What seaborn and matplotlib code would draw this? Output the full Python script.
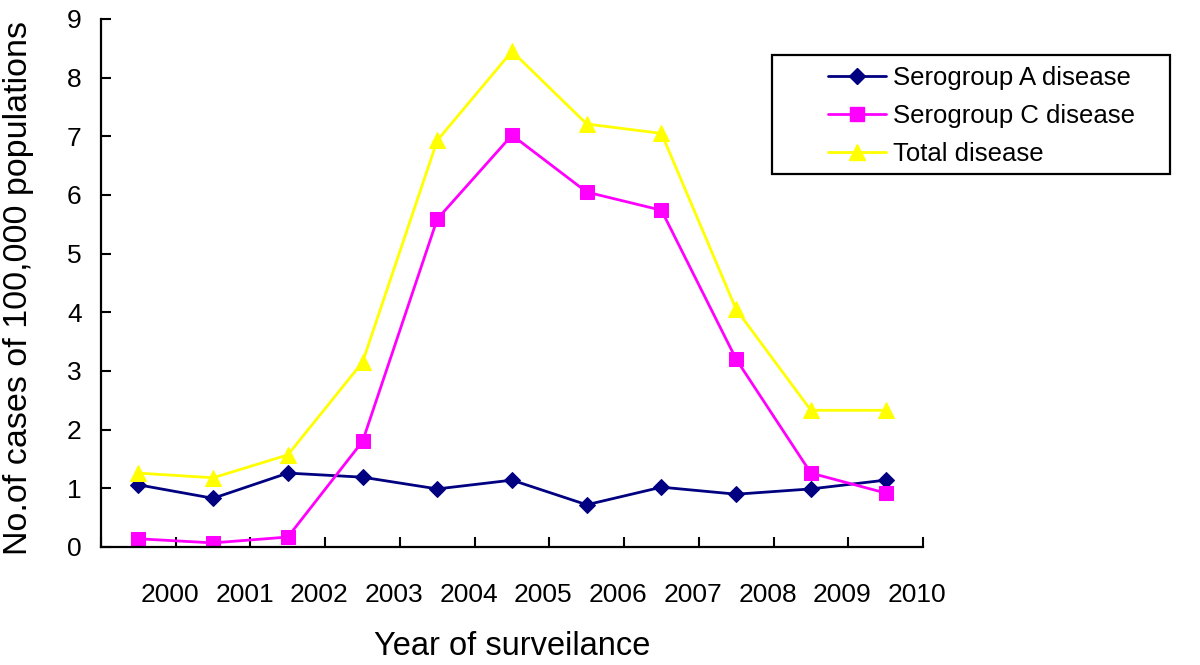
import numpy as np
import pandas as pd
import matplotlib
matplotlib.use("Agg")
import matplotlib.pyplot as plt
from matplotlib.patches import Rectangle
from matplotlib.lines import Line2D
import seaborn as sns

# Data
years = ["2000", "2001", "2002", "2003", "2004", "2005", "2006", "2007", "2008", "2009", "2010"]
serogroup_a = [1.06, 0.83, 1.26, 1.19, 0.99, 1.14, 0.72, 1.02, 0.90, 0.99, 1.14]
serogroup_c = [0.14, 0.07, 0.17, 1.80, 5.59, 7.02, 6.05, 5.74, 3.20, 1.26, 0.92]
total = [1.26, 1.18, 1.57, 3.15, 6.93, 8.45, 7.21, 7.05, 4.05, 2.33, 2.33]

series_names = ["Serogroup A disease", "Serogroup C disease", "Total disease"]
series_colors = ["#000080", "#FF00FF", "#FFFF00"]
series_markers = ["D", "s", "^"]
series_sizes = [8, 10, 11]

sns.set_style("white")
plt.rcParams['font.family'] = ['Liberation Sans', 'DejaVu Sans']
plt.rcParams.update({"text.color": "black", "axes.labelcolor": "black",
                     "xtick.color": "black", "ytick.color": "black"})

fig = plt.figure(figsize=(12, 6.65), dpi=100)
ax = fig.add_axes([101 / 1200, 1 - 547 / 665, (923 - 101) / 1200, (547 - 19) / 665])

pos = np.arange(len(years))
handles = []
for name, vals, col, mk, ms in zip(series_names, [serogroup_a, serogroup_c, total],
                                    series_colors, series_markers, series_sizes):
    sns.lineplot(x=pos, y=vals, ax=ax, color=col, marker=mk, markersize=ms,
                 markeredgecolor=col, linewidth=2.0, legend=False)
    handles.append(Line2D([], [], color=col, marker=mk, markersize=ms,
                          markeredgecolor=col, linewidth=2.0, label=name))

ax.set_xlim(-0.5, len(years) - 0.5)
ax.set_ylim(0, 9)
ax.set_yticks(range(0, 10))

# Excel style: tick marks between categories, labels sitting just left of them
ax.set_xticks(pos + 0.5 - 0.08)
ax.set_xticklabels(years)
ax.set_xticks(np.arange(-0.5, len(years)), minor=True)

ax.tick_params(axis="x", which="major", bottom=True, length=0, pad=26, labelsize=19)
ax.tick_params(axis="x", which="minor", bottom=True, direction="in", length=7, width=1.5)
ax.tick_params(axis="y", left=True, direction="in", length=7, width=1.5, pad=14, labelsize=19)

for side in ["top", "right"]:
    ax.spines[side].set_visible(False)
for side in ["left", "bottom"]:
    ax.spines[side].set_color("black")
    ax.spines[side].set_linewidth(1.6)

ax.set_xlabel("Year of surveilance", fontsize=23.5, labelpad=17)
ax.set_ylabel("No.of cases of 100,000 populations", fontsize=24.5)
ax.yaxis.set_label_coords(-0.082, 0.49)

# Legend box drawn separately to get the wide Excel padding
fig.patches.append(Rectangle((772 / 1200, 1 - 174 / 665), (1170 - 772) / 1200, (174 - 55) / 665,
                             transform=fig.transFigure, fill=False, edgecolor="black",
                             linewidth=1.6))
fig.legend(handles=handles, loc="upper left", bbox_to_anchor=(828 / 1200, 1 - 66 / 665),
           frameon=False, fontsize=18.5, handlelength=2.25, handletextpad=0.27,
           labelspacing=0.55, borderpad=0, borderaxespad=0)

fig.savefig("out.png", dpi=100)
